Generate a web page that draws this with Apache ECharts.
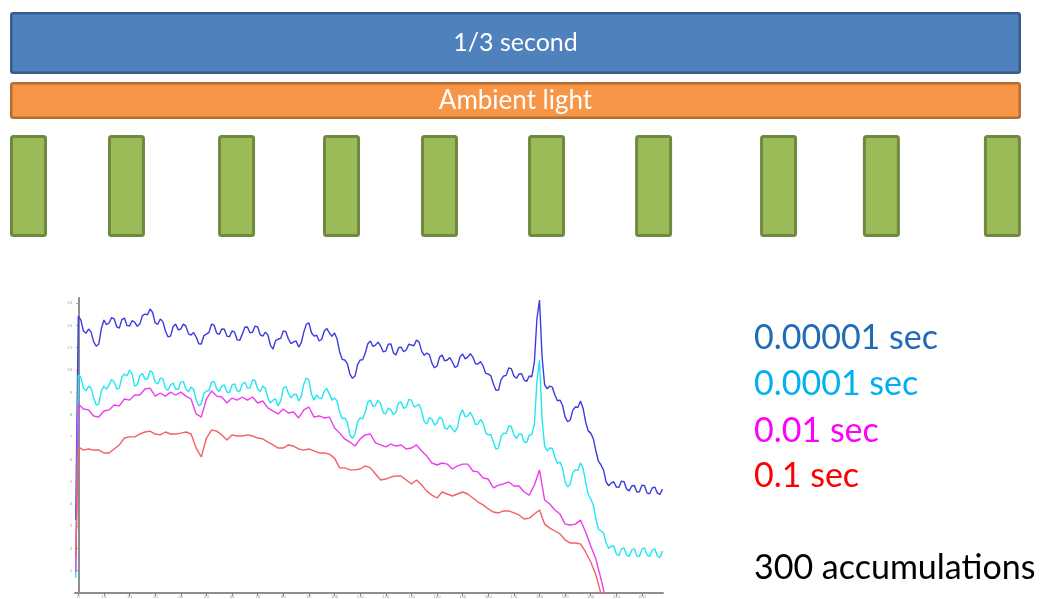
<!DOCTYPE html>
<html>
<head>
<meta charset="utf-8">
<script src="https://cdn.jsdelivr.net/npm/echarts@6/dist/echarts.min.js"></script>
<style>
  html, body { margin: 0; padding: 0; background: #ffffff; }
  #chart { width: 1048px; height: 599px; }
</style>
</head>
<body>
<div id="chart"></div>
<script>
// ---- Timing diagram (milliseconds within one frame) ----
const frameMs = 1000 / 3;
const frameText = '1/3 second';
const ambientText = 'Ambient light';
const pulseStartMs = [0, 32.3, 68.6, 103.2, 135.5, 170.8, 206.1, 247.3, 281.2, 321.1];
const pulseLengthMs = 12.2;

// ---- Spectra for each exposure ----
const exposureNames = ['0.00001 sec', '0.0001 sec', '0.01 sec', '0.1 sec'];
const accumulationsText = '300 accumulations';

// sample positions: fine grid for the noisy short exposures, coarse grid for the others
const shiftFine = [-1, 0, 1, 2, 3, 4, 5, 6, 7, 8, 9, 10, 11, 12, 13, 14, 15, 16, 17, 18, 19,
  20, 21, 22, 23, 24, 25, 26, 27, 28, 29, 30, 31, 32, 33, 34, 35, 36, 37, 38, 39,
  40, 41, 42, 43, 44, 45, 46, 47, 48, 49, 50, 51, 52, 53, 54, 55, 56, 57, 58, 59,
  60, 61, 62, 63, 64, 65, 66, 67, 68, 69, 70, 71, 72, 73, 74, 75, 76, 77, 78, 79,
  80, 81, 82, 83, 84, 85, 86, 87, 88, 89, 90, 91, 92, 93, 94, 95, 96, 97, 98, 99,
  100, 101, 102, 103, 104, 105, 106, 107, 108, 109, 110, 111, 112, 113, 114, 115, 116, 117, 118, 119,
  120, 121, 122, 123, 124, 125, 126, 127, 128, 129, 130, 131, 132, 133, 134, 135, 136, 137, 138, 139,
  140, 141, 142, 143, 144, 145, 146, 147, 148, 149, 150, 151, 152, 153, 154, 155, 156, 157, 158, 159,
  160, 161, 162, 163, 164, 165, 166, 167, 168, 169, 170, 171, 172, 173, 174, 175, 176, 177, 178, 179,
  180, 181, 182, 183, 184, 185, 186, 187, 188, 189, 190, 191, 192, 193, 194, 195, 196, 197, 198, 199,
  200, 201, 202, 203, 204, 205, 206, 207, 208, 209, 210, 211, 212, 213, 214, 215, 216, 217, 218, 219,
  220, 221, 222, 223, 224, 225, 226, 227, 228];

const shiftCoarse = [-1, 0, 2, 4, 6, 8, 10, 12, 14, 16, 18, 20, 22, 24, 26, 28, 30, 32, 34, 36, 38,
  40, 42, 44, 46, 48, 50, 52, 54, 56, 58, 60, 62, 64, 66, 68, 70, 72, 74, 76, 78,
  80, 82, 84, 86, 88, 90, 92, 94, 96, 98, 100, 102, 104, 106, 108, 110, 112, 114, 116, 118,
  120, 122, 124, 126, 128, 130, 132, 134, 136, 138, 140, 142, 144, 146, 148, 150, 152, 154, 156, 158,
  160, 162, 164, 166, 168, 170, 172, 174, 176, 178, 180, 182, 184, 186, 188, 190, 192, 194, 196, 198,
  200, 202, 204, 206, 208, 210, 212, 214, 216, 218, 220, 222, 224, 226, 228];

const exp00001 = [3.27,
  12.42, 12.24, 11.75, 11.65, 11.84, 11.70, 11.26, 11.07, 11.17, 11.86,
  12.24, 12.03, 12.11, 12.35, 12.29, 11.94, 11.88, 12.26, 12.33, 12.00,
  11.97, 12.21, 12.15, 11.96, 12.06, 12.44, 12.51, 12.48, 12.74, 12.58,
  12.11, 12.05, 12.29, 12.17, 11.75, 11.49, 11.52, 11.94, 12.06, 11.80,
  11.84, 12.06, 11.97, 11.62, 11.57, 11.68, 11.48, 11.18, 11.17, 11.54,
  11.61, 11.69, 12.06, 12.01, 11.66, 11.60, 11.84, 11.83, 11.52, 11.49,
  11.75, 11.70, 11.35, 11.33, 11.61, 11.92, 11.93, 11.67, 11.70, 11.97,
  11.93, 11.58, 11.52, 11.70, 11.57, 11.11, 10.94, 11.32, 11.39, 11.42,
  11.75, 11.72, 11.39, 11.18, 11.26, 11.30, 11.03, 11.22, 11.70, 12.06,
  12.11, 11.67, 11.52, 11.56, 11.30, 11.38, 11.75, 11.86, 11.66, 11.51,
  11.66, 11.39, 10.81, 10.48, 10.45, 10.29, 9.82, 9.63, 9.73, 10.24,
  10.45, 10.46, 10.76, 11.18, 11.30, 11.06, 11.12, 11.25, 11.08, 10.82,
  10.85, 11.16, 11.17, 10.77, 10.67, 11.00, 11.03, 10.82, 10.90, 11.16,
  11.12, 11.09, 11.35, 11.25, 10.85, 10.66, 10.76, 10.69, 10.31, 10.10,
  10.18, 10.58, 10.67, 10.41, 10.45, 10.56, 10.36, 10.12, 10.18, 10.60,
  10.72, 10.50, 10.58, 10.73, 10.58, 10.28, 10.27, 10.38, 10.18, 9.85,
  9.82, 9.75, 9.37, 9.09, 9.10, 9.57, 9.73, 9.76, 10.09, 10.06,
  9.73, 9.63, 9.82, 9.84, 9.55, 9.49, 9.73, 9.70, 10.36, 12.30,
  13.14, 10.60, 9.33, 9.16, 9.28, 9.23, 8.88, 8.62, 8.65, 8.42,
  7.89, 7.68, 7.76, 8.20, 8.34, 8.33, 8.61, 8.29, 7.67, 7.27,
  7.17, 6.92, 6.37, 5.91, 5.74, 5.51, 4.98, 4.81, 4.93, 4.99,
  4.75, 4.74, 5.02, 4.99, 4.66, 4.58, 4.80, 4.82, 4.53, 4.54,
  4.84, 4.81, 4.48, 4.45, 4.71, 4.75, 4.48, 4.42, 4.66];

const exp0001 = [0.67,
  9.78, 9.67, 9.19, 9.06, 9.28, 9.19, 8.74, 8.43, 8.48, 9.06,
  9.28, 9.13, 9.33, 9.58, 9.46, 9.15, 9.19, 9.69, 9.82, 9.73,
  10.00, 9.82, 9.28, 9.33, 9.73, 9.85, 9.60, 9.60, 9.96, 9.89,
  9.46, 9.37, 9.64, 9.60, 9.19, 9.08, 9.33, 9.42, 9.15, 9.13,
  9.46, 9.49, 9.15, 9.02, 9.24, 9.13, 8.65, 8.39, 8.48, 8.95,
  9.06, 9.08, 9.46, 9.49, 9.15, 9.04, 9.28, 9.33, 9.01, 8.99,
  9.33, 9.38, 9.06, 9.04, 9.37, 9.46, 9.19, 9.19, 9.55, 9.53,
  9.15, 9.04, 9.28, 9.19, 8.74, 8.52, 8.65, 8.70, 8.39, 8.61,
  9.19, 9.26, 8.97, 8.75, 8.88, 8.93, 8.61, 8.81, 9.37, 9.64,
  9.55, 8.92, 8.65, 8.88, 8.74, 8.72, 9.06, 9.17, 8.92, 8.65,
  8.74, 8.61, 8.12, 7.81, 7.85, 7.65, 7.09, 6.93, 7.13, 7.67,
  7.85, 7.81, 8.12, 8.57, 8.65, 8.36, 8.43, 8.64, 8.48, 8.08,
  8.03, 8.30, 8.21, 7.99, 8.12, 8.53, 8.57, 8.28, 8.34, 8.68,
  8.65, 8.34, 8.39, 8.46, 8.16, 7.69, 7.58, 7.87, 7.80, 7.53,
  7.62, 7.89, 7.80, 7.40, 7.35, 7.53, 7.35, 7.22, 7.44, 8.01,
  8.21, 7.90, 7.94, 8.10, 7.89, 7.56, 7.58, 7.78, 7.62, 7.18,
  7.09, 7.11, 6.77, 6.46, 6.50, 7.02, 7.17, 7.15, 7.49, 7.47,
  7.09, 6.93, 7.13, 7.13, 6.77, 6.75, 7.09, 7.10, 7.58, 9.50,
  10.45, 7.80, 6.59, 6.37, 6.50, 6.48, 6.10, 5.81, 5.87, 5.61,
  4.98, 4.76, 4.89, 5.39, 5.52, 5.50, 5.83, 5.59, 4.98, 4.42,
  4.22, 3.95, 3.32, 2.87, 2.78, 2.69, 2.24, 2.00, 2.11, 2.11,
  1.75, 1.68, 1.97, 2.02, 1.70, 1.64, 1.93, 1.98, 1.66, 1.64,
  1.97, 2.02, 1.70, 1.64, 1.93, 1.98, 1.66, 1.59, 1.88];

const exp001 = [0.94,
  8.48, 8.25, 8.21, 7.94, 7.89, 8.16, 8.21, 8.43, 8.39, 8.70,
  8.65, 8.88, 8.88, 9.15, 9.19, 8.83, 8.97, 8.83, 9.01, 8.88,
  9.01, 8.83, 8.70, 8.03, 7.89, 8.70, 9.06, 8.83, 8.79, 8.52,
  8.74, 8.65, 8.79, 8.65, 8.79, 8.52, 8.61, 8.30, 8.16, 8.03,
  8.25, 8.07, 8.12, 7.85, 8.21, 8.34, 7.89, 7.94, 7.85, 7.89,
  7.40, 7.17, 6.91, 6.77, 6.59, 6.91, 7.09, 7.13, 6.73, 6.64,
  6.55, 6.68, 6.59, 6.64, 6.46, 6.50, 6.64, 6.37, 6.14, 5.83,
  5.74, 5.83, 5.78, 5.56, 5.70, 5.78, 5.78, 5.47, 5.43, 5.16,
  5.11, 4.71, 4.84, 4.89, 4.98, 4.80, 4.80, 4.53, 4.39, 4.84,
  5.52, 4.17, 3.99, 3.72, 3.54, 3.09, 3.05, 3.09, 3.27, 2.74,
  2.11, 1.52, 0.63, -0.36];

const exp01 = [1.61,
  6.55, 6.41, 6.46, 6.41, 6.41, 6.28, 6.28, 6.46, 6.64, 6.95,
  7.00, 7.00, 7.13, 7.22, 7.26, 7.13, 7.09, 7.22, 7.13, 7.13,
  7.17, 7.22, 7.13, 6.50, 6.10, 6.95, 7.31, 7.26, 7.09, 6.86,
  7.09, 7.04, 7.04, 7.09, 7.04, 6.95, 6.91, 6.77, 6.64, 6.50,
  6.50, 6.64, 6.59, 6.46, 6.41, 6.46, 6.37, 6.28, 6.28, 6.23,
  6.05, 5.61, 5.61, 5.52, 5.52, 5.56, 5.70, 5.61, 5.34, 5.07,
  5.11, 5.20, 5.25, 5.25, 5.07, 4.89, 5.07, 4.84, 4.57, 4.39,
  4.26, 4.53, 4.44, 4.35, 4.44, 4.53, 4.44, 4.26, 4.08, 3.95,
  3.77, 3.63, 3.59, 3.68, 3.68, 3.59, 3.50, 3.32, 3.36, 3.54,
  3.72, 3.09, 2.91, 2.78, 2.65, 2.38, 2.24, 2.24, 2.20, 1.84,
  1.39, 0.81, -0.04, -0.85];

const xTicks = [0, 10, 20, 30, 40, 50, 60, 70, 80, 90, 100, 110, 120, 130, 140, 150, 160, 170, 180, 190, 200, 210, 220];
const yTicks = [1, 2, 3, 4, 5, 6, 7, 8, 9, 10, 11, 12, 13];

// ---- Styling ----
const FONT = 'Lato, "Open Sans", sans-serif';
const lineColors = ['#3b3be0', '#22e6f2', '#ee3cee', '#f26262'];
const labelColors = ['#1f6bb8', '#00b0f0', '#ff00ff', '#ff0000'];
const spectra = [exp00001, exp0001, exp001, exp01];
const spectraShift = [shiftFine, shiftFine, shiftCoarse, shiftCoarse];

function boxRenderer(fill, stroke, lw, text, fontSize) {
  return function (params, api) {
    const a = api.coord([api.value(0), api.value(2)]);
    const b = api.coord([api.value(1), api.value(2)]);
    const band = api.size([0, 1])[1];
    const el = {
      type: 'rect',
      shape: { x: a[0] + lw / 2, y: a[1] - band / 2 + lw / 2, width: b[0] - a[0] - lw, height: band - lw, r: 2 },
      style: { fill: fill, stroke: stroke, lineWidth: lw }
    };
    if (text) {
      el.textContent = { style: { text: text, fill: '#ffffff', font: fontSize + 'px ' + FONT } };
      el.textConfig = { position: 'inside' };
    }
    return el;
  };
}

const timelineGrids = [
  { left: 10, right: 27, top: 12, height: 62 },
  { left: 10, right: 27, top: 82, height: 37 },
  { left: 10, right: 27, top: 135, height: 102 }
];

const xAxes = timelineGrids.map((g, i) => ({ gridIndex: i, type: 'value', min: 0, max: frameMs, show: false }));
const yAxes = timelineGrids.map((g, i) => ({ gridIndex: i, type: 'category', data: ['t'], show: false }));

xAxes.push({
  gridIndex: 3, type: 'value', min: -1.29, max: 228.2,
  axisLine: { show: true, lineStyle: { color: '#8e8e8e', width: 2 } },
  axisTick: { show: true, customValues: xTicks, length: 3, inside: false, lineStyle: { color: '#7a7a7a' } },
  axisLabel: { show: true, customValues: xTicks, fontSize: 4, color: '#9a9a9a', margin: 2, fontFamily: FONT },
  splitLine: { show: false }
});
yAxes.push({
  gridIndex: 3, type: 'value', min: 0, max: 13.23,
  axisLine: { show: true, lineStyle: { color: '#8e8e8e', width: 2 } },
  axisTick: { show: true, customValues: yTicks, length: 2, lineStyle: { color: '#9a9a9a' } },
  axisLabel: { show: true, customValues: yTicks, fontSize: 4, color: '#9a9a9a', margin: 3, fontFamily: FONT },
  splitLine: { show: false }
});

const series = [
  {
    type: 'custom', xAxisIndex: 0, yAxisIndex: 0, silent: true,
    renderItem: boxRenderer('#4f81bd', '#385d8a', 2.5, frameText, 25),
    encode: { x: [0, 1], y: 2 },
    data: [[0, frameMs, 0]]
  },
  {
    type: 'custom', xAxisIndex: 1, yAxisIndex: 1, silent: true,
    renderItem: boxRenderer('#f79646', '#b66d31', 2.5, ambientText, 26),
    encode: { x: [0, 1], y: 2 },
    data: [[0, frameMs, 0]]
  },
  {
    type: 'custom', xAxisIndex: 2, yAxisIndex: 2, silent: true,
    renderItem: boxRenderer('#9bbb59', '#71893f', 3, null, 0),
    encode: { x: [0, 1], y: 2 },
    data: pulseStartMs.map(s => [s, s + pulseLengthMs, 0])
  }
];

spectra.forEach((vals, i) => {
  const xs = spectraShift[i];
  series.push({
    type: 'line', name: exposureNames[i], xAxisIndex: 3, yAxisIndex: 3,
    showSymbol: false, silent: true, clip: true,
    lineStyle: { color: lineColors[i], width: 1.4 },
    data: vals.map((v, k) => [xs[k], v])
  });
});

const labelCenters = [338, 384, 431, 476];
const graphics = exposureNames.map((name, i) => ({
  type: 'text', x: 754, y: labelCenters[i],
  style: { text: name, fill: labelColors[i], font: '34px ' + FONT, verticalAlign: 'middle' }
}));
graphics.push({
  type: 'text', x: 754, y: 568,
  style: { text: accumulationsText, fill: '#000000', font: '34px ' + FONT, verticalAlign: 'middle' }
});

const chart = echarts.init(document.getElementById('chart'), null, { renderer: 'canvas' });
chart.setOption({
  animation: false,
  backgroundColor: '#ffffff',
  grid: timelineGrids.concat([{ left: 75, top: 298, width: 588, height: 295 }]),
  xAxis: xAxes,
  yAxis: yAxes,
  series: series,
  graphic: graphics
});
</script>
</body>
</html>
